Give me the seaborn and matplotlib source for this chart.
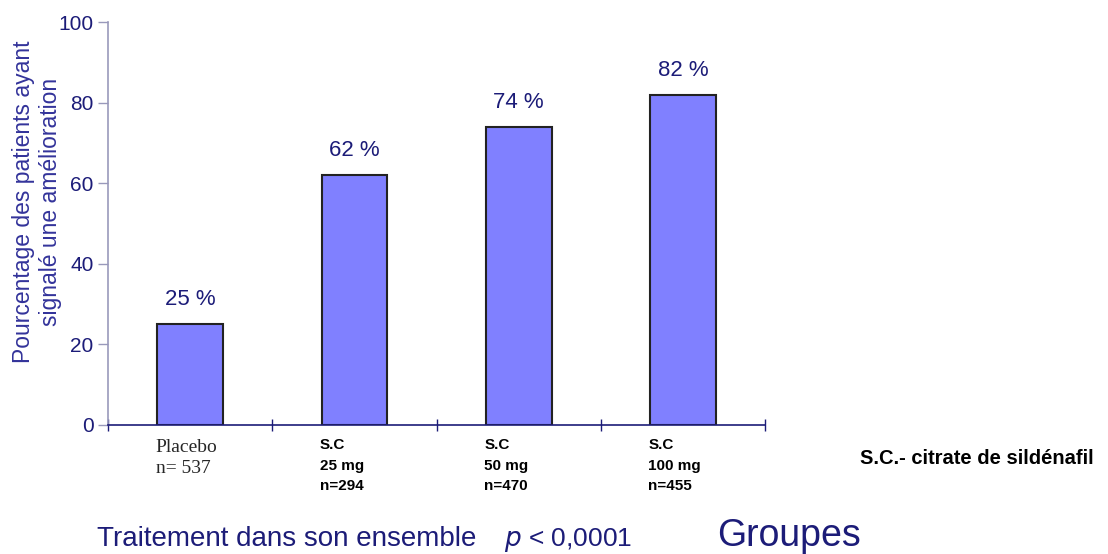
import pandas as pd
import seaborn as sns
import matplotlib.pyplot as plt
import matplotlib.transforms as mtransforms

groups = ["Placebo", "S.C 25 mg", "S.C 50 mg", "S.C 100 mg"]
pct = [25, 62, 74, 82]
tick_labels = ["Placebo\nn= 537", "S.C\n25 mg\nn=294", "S.C\n50 mg\nn=470", "S.C\n100 mg\nn=455"]

df = pd.DataFrame({"group": groups, "pct": pct})

navy = "#1c1c78"
sns.set_style("white")
plt.rcParams['font.family'] = ['Liberation Sans', 'DejaVu Sans']

fig = plt.figure(figsize=(11.08, 5.54), dpi=100)
ax = fig.add_axes([0.0975, 0.233, 0.593, 0.727])

sns.barplot(x="group", y="pct", data=df, width=0.4, color="#8080ff",
            edgecolor="#222222", linewidth=1.5, saturation=1, ax=ax)

ax.set_ylim(0, 100)
ax.set_xlim(-0.5, 3.5)
ax.set_yticks([0, 20, 40, 60, 80, 100])
ax.set_xticks([-0.5, 0.5, 1.5, 2.5, 3.5])
ax.set_xticklabels([])
ax.tick_params(axis="y", colors="#9999bb", labelcolor=navy, labelsize=15,
               length=7, width=1, direction="out", left=True)
ax.tick_params(axis="x", colors=navy, length=8, width=1, direction="inout", bottom=True)
for s in ["top", "right"]:
    ax.spines[s].set_visible(False)
ax.spines["left"].set_color("#9999bb")
ax.spines["bottom"].set_color(navy)
ax.spines["left"].set_linewidth(1.2)
ax.spines["bottom"].set_linewidth(1.2)

ax.set_xlabel("")
ax.set_ylabel("Pourcentage des patients ayant\nsignalé une amélioration",
              fontsize=16.5, color="#33339a", labelpad=4, linespacing=1.2)
ax.yaxis.set_label_coords(-0.07, 0.553)

for i, v in enumerate(pct):
    ax.annotate(f"{v} %", (i, v), xytext=(0, 10), textcoords="offset points",
                ha="center", va="bottom", fontsize=16, color=navy)

trans = mtransforms.blended_transform_factory(ax.transData, ax.transAxes)
for i, lab in enumerate(tick_labels):
    if i == 0:
        ax.text(i - 0.21, -0.035, lab, transform=trans, ha="left", va="top",
                fontsize=14, family=["Liberation Serif", "DejaVu Serif"], linespacing=1.3)
    else:
        ax.text(i - 0.21, -0.033, lab, transform=trans, ha="left", va="top",
                fontsize=11, fontweight="bold", color="black", linespacing=1.6)

fig.text(0.776, 0.173, "S.C.- citrate de sildénafil", fontsize=14.5,
         fontweight="bold", color="black", va="center")
fig.text(0.0875, 0.014, "Traitement dans son ensemble", fontsize=20, color=navy, va="baseline")
fig.text(0.455, 0.014, "$\\it{p}$ < 0,0001", fontsize=19, color=navy, va="baseline")
fig.text(0.647, 0.014, "Groupes", fontsize=27, color=navy, va="baseline")

fig.savefig("out.png", dpi=100)
